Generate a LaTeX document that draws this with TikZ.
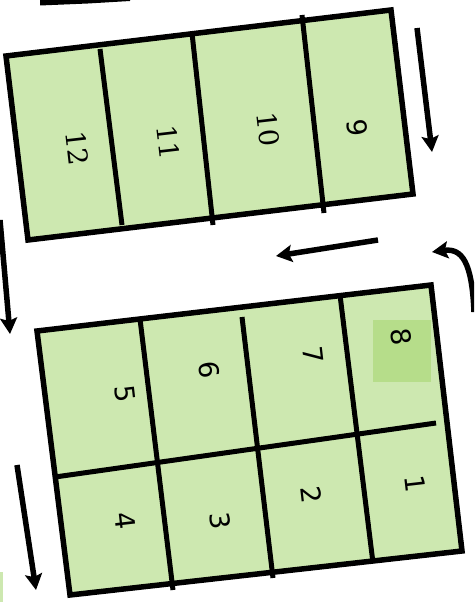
\documentclass[tikz,border=0pt]{standalone}
\usepackage{fontspec}
\newfontfamily\labsans{DejaVu Sans}
\newfontfamily\labserif{DejaVu Serif}
\usetikzlibrary{arrows.meta}
\definecolor{tablegreen}{HTML}{CDE8B0}
\definecolor{seatgreen}{HTML}{B6DD8A}
\begin{document}
\begin{tikzpicture}[x=1pt,y=-1pt,
  tablefill/.style={fill=tablegreen},
  tableedge/.style={draw=black,line width=5.5pt,line join=miter},
  divider/.style={draw=black,line width=5pt},
  flowarrow/.style={draw=black,line width=5.5pt,-{Stealth[length=16pt,width=17pt,inset=3pt]}},
  sanslab/.style={font=\labsans\fontsize{27}{27}\selectfont,rotate=-83.4,inner sep=0pt},
  seriflab/.style={font=\labserif\fontsize{27}{27}\selectfont,rotate=-83.4,inner sep=0pt}]
\useasboundingbox (0,0) rectangle (474,602);
\clip (0,0) rectangle (474,602);
% top table
\fill[tablefill] (6,56) -- (391,10) -- (413,194) -- (28,240) -- cycle;
\draw[tableedge] (6,56) -- (391,10) -- (413,194) -- (28,240) -- cycle;
\draw[divider] (100,49) -- (122,225);
\draw[divider] (192,33) -- (213,225);
\draw[divider] (302,15) -- (324,213);
\node[seriflab] (n12) at (77,148) {12};
\node[seriflab] (n11) at (168,142) {11};
\node[seriflab] (n10) at (268,129) {10};
\node[sanslab] (n9) at (357,128) {9};
% bottom table
\fill[tablefill] (37,331) -- (431,285) -- (462,551) -- (70,595) -- cycle;
\fill[seatgreen] (373,320) rectangle (431,382);
\draw[tableedge] (37,331) -- (431,285) -- (462,551) -- (70,595) -- cycle;
\draw[divider] (55,477) -- (436,423);
\draw[divider] (140,319) -- (173,590);
\draw[divider] (242,317) -- (273,578);
\draw[divider] (340,295) -- (373,563);
\node[sanslab] (n5) at (125,394) {5};
\node[sanslab] (n6) at (209,370) {6};
\node[sanslab] (n7) at (313,355) {7};
\node[sanslab] (n8) at (401,337) {8};
\node[sanslab] (n4) at (125,521) {4};
\node[sanslab] (n3) at (220,521) {3};
\node[sanslab] (n2) at (311,495) {2};
\node[sanslab] (n1) at (415,484) {1};
% arrows
\coordinate (a1s) at (417,28);  \coordinate (a1e) at (432,152);
\coordinate (a2s) at (378,240); \coordinate (a2e) at (276,256);
\coordinate (a3s) at (474,312); \coordinate (a3e) at (432,252);
\coordinate (a4s) at (0,220);   \coordinate (a4e) at (10,334);
\coordinate (a5s) at (17,465);  \coordinate (a5e) at (36,590);
\draw[flowarrow] (a1s) -- (a1e);
\draw[flowarrow] (a2s) -- (a2e);
\draw[flowarrow] (a3s) .. controls (472,262) and (462,248) .. (a3e);
\draw[flowarrow] (a4s) -- (a4e);
\draw[flowarrow] (a5s) -- (a5e);
\fill[black] (40,-2) -- (130,-2) -- (130,1) -- (88,3.5) -- (40,5.5) -- cycle;
\fill[tablegreen] (-5,572) rectangle (3,610);
\end{tikzpicture}
\end{document}
